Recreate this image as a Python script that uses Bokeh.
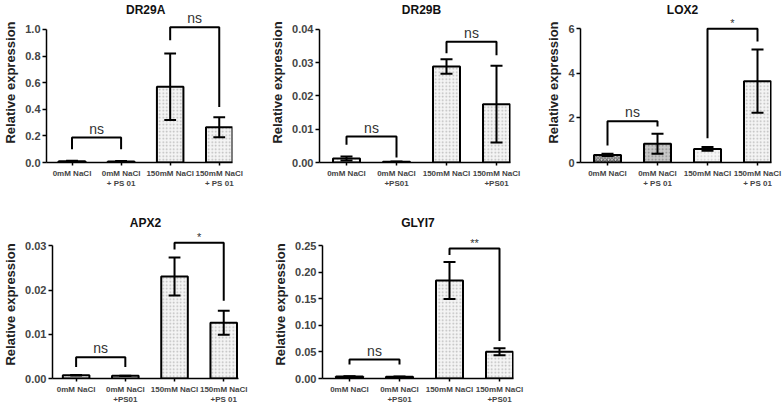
from bokeh.plotting import figure
from bokeh.layouts import column, row
from bokeh.models import Range1d, FixedTicker, NumeralTickFormatter, Label, ColumnDataSource
from bokeh.core.properties import value
from bokeh.embed import file_html
from bokeh.resources import INLINE

# ---------------- data ----------------
x_pos = [0, 1, 2, 3]

labels_a = ["0mM NaCl", "0mM NaCl\n+ PS 01", "150mM NaCl", "150mM NaCl\n+ PS 01"]
labels_b = ["0mM NaCl", "0mM NaCl\n+PS01", "150mM NaCl", "150mM NaCl\n+PS01"]
labels_c = ["0mM NaCl", "0mM NaCl\n+PS01", "150mM NaCl", "150mM NaCl\n+PS 01"]

dr29a_mean = [0.010, 0.008, 0.57, 0.265]
dr29a_err = [0.003, 0.003, 0.25, 0.075]
dr29b_mean = [0.0012, 0.0002, 0.0288, 0.0175]
dr29b_err = [0.0006, 0.0001, 0.0022, 0.0115]
lox2_mean = [0.34, 0.84, 0.61, 3.65]
lox2_err = [0.05, 0.45, 0.08, 1.42]
apx2_mean = [0.00074, 0.0006, 0.0231, 0.0126]
apx2_err = [0.00005, 0.00005, 0.0043, 0.0027]
glyi7_mean = [0.0037, 0.0035, 0.1847, 0.0505]
glyi7_err = [0.0005, 0.0005, 0.035, 0.0065]

# brackets: (x0, x1, y_top, y_left_end, y_right_end, text)
dr29a_brackets = [(0, 1, 0.1875, 0.10, 0.10, "ns"), (2, 3, 1.0175, 0.92, 0.4175, "ns")]
dr29b_brackets = [(0, 1, 0.0078, 0.0053, 0.0015, "ns"), (2, 3, 0.0362, 0.0328, 0.0322, "ns")]
lox2_brackets = [(0, 1, 1.85, 0.76, 1.62, "ns"), (2, 3, 6.0, 1.09, 5.43, "*")]
apx2_brackets = [(0, 1, 0.0048, 0.0026, 0.0026, "ns"), (2, 3, 0.0307, 0.0292, 0.0176, "*")]
glyi7_brackets = [(0, 1, 0.0357, 0.0265, 0.0265, "ns"), (2, 3, 0.245, 0.233, 0.0708, "**")]

y_ticks_dr29a = [0, 0.2, 0.4, 0.6, 0.8, 1.0]
y_ticks_dr29b = [0, 0.01, 0.02, 0.03, 0.04]
y_ticks_lox2 = [0, 2, 4, 6]
y_ticks_apx2 = [0, 0.01, 0.02, 0.03]
y_ticks_glyi7 = [0, 0.05, 0.10, 0.15, 0.20, 0.25]

# ---------------- styles ----------------
FONT = "Liberation Sans"
FONT_V = value(FONT)
light = dict(fill="#f4f4f4", hatch="dot", hcolor="#b8b8b8")
white = dict(fill="#ffffff", hatch="dot", hcolor="#dddddd")
default_styles = [white, white, light, light]
lox2_styles = [dict(fill="#d9d9d9", hatch="diagonal_cross", hcolor="#555555"),
               dict(fill="#c8c8c8", hatch="dot", hcolor="#8a8a8a"),
               dict(fill="#f7f7f7", hatch="dot", hcolor="#cfcfcf"),
               light]


def make_panel(title, means, errs, brackets, labels, yticks, fmt, y_end, y_top_tick,
               width, height, left, right, top, bottom, x_start, x_end, styles, title_mode):
    p = figure(width=width, height=height, output_backend="svg", toolbar_location=None,
               x_range=Range1d(x_start, x_end), y_range=Range1d(0, y_end),
               min_border_left=left, min_border_right=right, min_border_top=top,
               min_border_bottom=bottom)
    p.outline_line_color = None
    p.grid.visible = False
    p.background_fill_color = "white"

    src = ColumnDataSource(dict(
        x=x_pos, top=means,
        lo=[m - e for m, e in zip(means, errs)],
        hi=[m + e for m, e in zip(means, errs)],
        fill=[s["fill"] for s in styles],
        hcol=[s["hcolor"] for s in styles],
        hatch=[s["hatch"] for s in styles],
    ))
    p.vbar(x="x", top="top", bottom=0, width=0.54, source=src, fill_color="fill",
           line_color="black", line_width=2, hatch_pattern="hatch", hatch_color="hcol",
           hatch_scale=3.5, hatch_weight=1)
    # error bars
    p.segment(x0="x", x1="x", y0="lo", y1="hi", source=src, line_color="black", line_width=2)
    cap = 0.12
    p.segment(x0=[x - cap for x in x_pos], x1=[x + cap for x in x_pos], y0=src.data["hi"],
              y1=src.data["hi"], line_color="black", line_width=2)
    p.segment(x0=[x - cap for x in x_pos], x1=[x + cap for x in x_pos], y0=src.data["lo"],
              y1=src.data["lo"], line_color="black", line_width=2)

    # significance brackets
    xs, ys, tx, ty, tt = [], [], [], [], []
    for (x0, x1, yt, yl, yr, t) in brackets:
        xs.append([x0, x0, x1, x1])
        ys.append([yl, yt, yt, yr])
        tx.append((x0 + x1) / 2)
        ty.append(yt)
        tt.append(t)
    p.multi_line(xs, ys, line_color="black", line_width=2)
    ns_x = [a for a, t in zip(tx, tt) if t == "ns"]
    ns_y = [b for b, t in zip(ty, tt) if t == "ns"]
    st_x = [a for a, t in zip(tx, tt) if t != "ns"]
    st_y = [b for b, t in zip(ty, tt) if t != "ns"]
    st_t = [t for t in tt if t != "ns"]
    if ns_x:
        p.text(x=ns_x, y=ns_y, text=["ns"] * len(ns_x), text_align="center",
               text_baseline="bottom", text_font_size="14px", text_color="#333333",
               text_font=FONT_V, y_offset=-1)
    if st_x:
        p.text(x=st_x, y=st_y, text=st_t, text_align="center",
               text_baseline="bottom", text_font_size="11px", text_color="#333333",
               text_font=FONT_V, y_offset=0)

    # title
    if title_mode == "label":
        p.add_layout(Label(x=1.5, y=y_end, text=title, text_align="center",
                           text_baseline="top", text_font=FONT, text_font_style="bold",
                           text_font_size="12px", text_color="#111111"))
    else:
        p.title.text = title
        p.title.align = "center"
        p.title.text_font = FONT
        p.title.text_font_style = "bold"
        p.title.text_font_size = "12px"
        p.title.text_color = "#111111"
        p.title.standoff = 1
        p.title.offset = title_mode

    # axes
    ya = p.yaxis[0]
    ya.ticker = FixedTicker(ticks=yticks)
    ya.formatter = NumeralTickFormatter(format=fmt)
    ya.bounds = (0, y_top_tick)
    ya.minor_tick_line_color = None
    ya.major_tick_in = 0
    ya.major_tick_out = 4
    ya.major_tick_line_width = 1.5
    ya.axis_line_width = 1.5
    ya.major_label_text_font = FONT
    ya.major_label_text_font_style = "bold"
    ya.major_label_text_font_size = "11px"
    ya.major_label_standoff = 2
    ya.axis_label = "Relative expression"
    ya.axis_label_text_font = FONT
    ya.axis_label_text_font_style = "bold"
    ya.axis_label_text_font_size = "13px"
    ya.axis_label_standoff = 4
    ya.axis_label_text_color = "#222222"

    xa = p.xaxis[0]
    xa.ticker = FixedTicker(ticks=x_pos)
    xa.major_label_overrides = {i: lab for i, lab in zip(x_pos, labels)}
    xa.minor_tick_line_color = None
    xa.major_tick_in = 0
    xa.major_tick_out = 3
    xa.major_tick_line_width = 1.5
    xa.axis_line_width = 1.5
    xa.major_label_text_font = FONT
    xa.major_label_text_font_style = "bold"
    xa.major_label_text_font_size = "8px"
    xa.major_label_text_line_height = 1.15
    xa.major_label_standoff = 3
    return p


# top row: height 206, frame 160 px tall (x axis at y=162)
p1 = make_panel("DR29A", dr29a_mean, dr29a_err, dr29a_brackets, labels_a, y_ticks_dr29a, "0.0",
                1.203, 1.0, 262, 206, 42, 30, 2, 44, -0.52, 3.27, default_styles, "label")
p2 = make_panel("DR29B", dr29b_mean, dr29b_err, dr29b_brackets, labels_b, y_ticks_dr29b, "0.00",
                0.0480, 0.04, 262, 206, 57, 14, 2, 44, -0.54, 3.28, default_styles, "label")
p3 = make_panel("LOX2", lox2_mean, lox2_err, lox2_brackets, labels_a, y_ticks_lox2, "0",
                7.18, 6, 260, 206, 56, 13, 2, 44, -0.54, 3.28, lox2_styles, "label")
# bottom row: height 200, frame 151 px tall (x axis at y=381)
p4 = make_panel("APX2", apx2_mean, apx2_err, apx2_brackets, labels_c, y_ticks_apx2, "0.00",
                0.03348, 0.03, 262, 200, 49, 24, 24, 25, -0.48, 3.30, default_styles, 5)
p5 = make_panel("GLYI7", glyi7_mean, glyi7_err, glyi7_brackets, labels_b, y_ticks_glyi7, "0.00",
                0.2790, 0.25, 262, 200, 60, 11, 24, 25, -0.54, 3.28, default_styles, 6)

layout = column(row(p1, p2, p3), row(p4, p5))
open("out.html", "w").write(file_html(layout, INLINE))
